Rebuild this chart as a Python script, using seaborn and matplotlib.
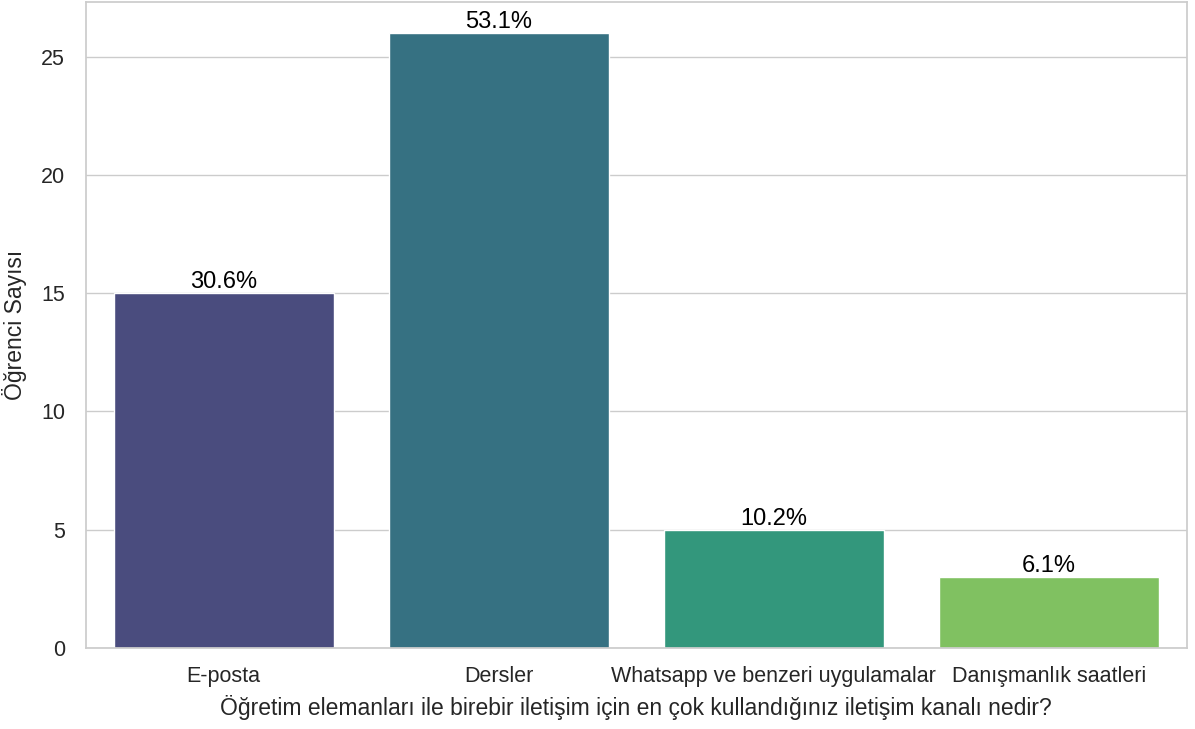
import matplotlib
matplotlib.use("Agg")
import matplotlib.pyplot as plt
import seaborn as sns
import pandas as pd

categories = ["E-posta", "Dersler", "Whatsapp ve benzeri uygulamalar", "Danışmanlık saatleri"]
counts = [15, 26, 5, 3]
percent_labels = ["30.6%", "53.1%", "10.2%", "6.1%"]
xlabel = "Öğretim elemanları ile birebir iletişim için en çok kullandığınız iletişim kanalı nedir?"
ylabel = "Öğrenci Sayısı"

sns.set_theme(style="whitegrid")
plt.rcParams['font.family'] = ['Liberation Sans', 'DejaVu Sans']

df = pd.DataFrame({"cat": categories, "n": counts})
fig = plt.figure(figsize=(11.95, 7.29), dpi=100)
ax = fig.add_axes([0.072, 0.111, 0.921, 0.886])
sns.barplot(data=df, x="cat", y="n", hue="cat", palette="viridis", legend=False, ax=ax)
for p, lab in zip(ax.patches, percent_labels):
    ax.text(p.get_x() + p.get_width() / 2, p.get_height(), lab,
            ha="center", va="bottom", fontsize=17, color="black")
ax.set_xlabel(xlabel, fontsize=16.5, labelpad=6)
ax.set_ylabel(ylabel, fontsize=16.5, labelpad=10)
ax.tick_params(axis="x", labelsize=15.5, pad=7)
ax.tick_params(axis="y", labelsize=15.5, pad=9)
fig.savefig("out.png", dpi=100)
